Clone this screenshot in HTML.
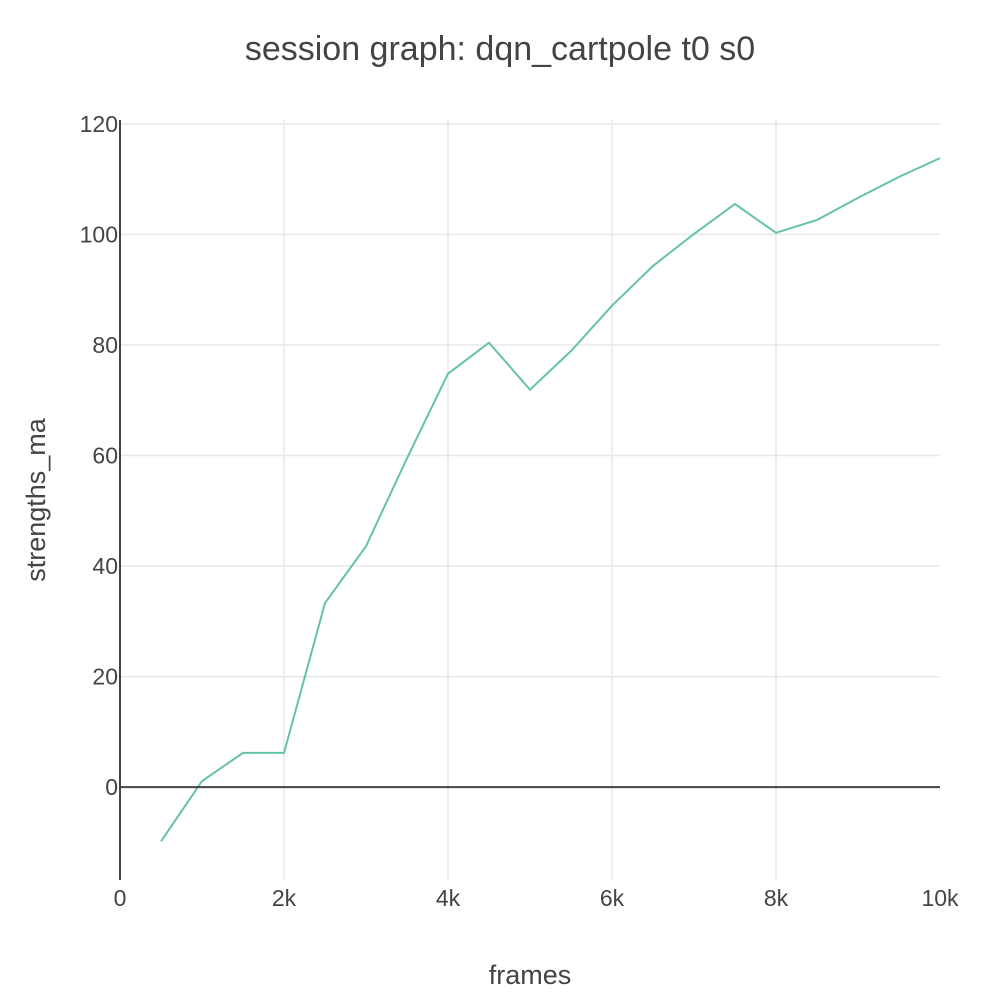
<!DOCTYPE html>
<html><head><meta charset="utf-8"><style>
html,body{margin:0;padding:0;background:#fff;}
svg{display:block;font-family:"Liberation Sans",sans-serif;}
</style></head><body>
<svg id="chart" width="1000" height="1000">
<text x="500" y="60" text-anchor="middle" font-size="34" fill="#444">session graph: dqn_cartpole t0 s0</text>
<text x="530" y="984" text-anchor="middle" font-size="27" fill="#444">frames</text>
<text transform="translate(45,500) rotate(-90)" text-anchor="middle" font-size="27" fill="#444">strengths_ma</text>
<g id="grid"></g><g id="series"></g><g id="axes"></g>
</svg>
<script>
const xs = [500,1000,1500,2000,2500,3000,3500,4000,4500,5000,5500,6000,6500,7000,7500,8000,8500,9000,9500,10000];
const ys = [-9.8,1.1,6.2,6.2,33.3,43.6,59.5,74.8,80.4,71.9,78.9,87.1,94.3,100.1,105.5,100.3,102.6,106.6,110.4,113.8];
const xTicks = [0,2000,4000,6000,8000,10000];
const xTickLabels = ["0","2k","4k","6k","8k","10k"];
const yTicks = [0,20,40,60,80,100,120];
const yTickLabels = ["0","20","40","60","80","100","120"];

const NS="http://www.w3.org/2000/svg";
const X0=120,X1=940,Y0=880,Y1=120;
const xMin=0,xMax=10000,yMin=-16.8,yMax=120.7;
function sx(v){return X0+(v-xMin)/(xMax-xMin)*(X1-X0);}
function sy(v){return Y0-(v-yMin)/(yMax-yMin)*(Y0-Y1);}
function mk(tag,attrs,parent){const e=document.createElementNS(NS,tag);for(const k in attrs)e.setAttribute(k,attrs[k]);parent.appendChild(e);return e;}
const grid=document.getElementById('grid'),series=document.getElementById('series'),axes=document.getElementById('axes');

xTicks.forEach((t,i)=>{
  if(t!==xMin && t!==xMax){const l=mk('line',{x1:sx(t),x2:sx(t),y1:Y1,y2:Y0,stroke:'#e8e8e8','stroke-width':1.5},grid);
  
  }
  const tx=mk('text',{x:sx(t),y:906,'text-anchor':'middle','font-size':23,fill:'#444'},axes);
  tx.textContent=xTickLabels[i];
  
  
});
yTicks.forEach((t,i)=>{
  if(t!==0){const l=mk('line',{x1:X0,x2:X1,y1:sy(t),y2:sy(t),stroke:'#e8e8e8','stroke-width':1.5},grid);
  
  }
  const tx=mk('text',{x:118,y:sy(t)+8,'text-anchor':'end','font-size':23,fill:'#444'},axes);
  tx.textContent=yTickLabels[i];
  
  
});
const zl=mk('line',{x1:X0,x2:X1,y1:sy(0),y2:sy(0),stroke:'#444','stroke-width':2},axes);


const ya=mk('line',{x1:X0,x2:X0,y1:Y1,y2:Y0,stroke:'#444','stroke-width':2},axes);



const pts=xs.map((x,i)=>sx(x).toFixed(1)+','+sy(ys[i]).toFixed(1)).join(' ');
const pl=mk('polyline',{points:pts,fill:'none',stroke:'#66c2a5','stroke-width':2},series);


</script>
</body></html>
